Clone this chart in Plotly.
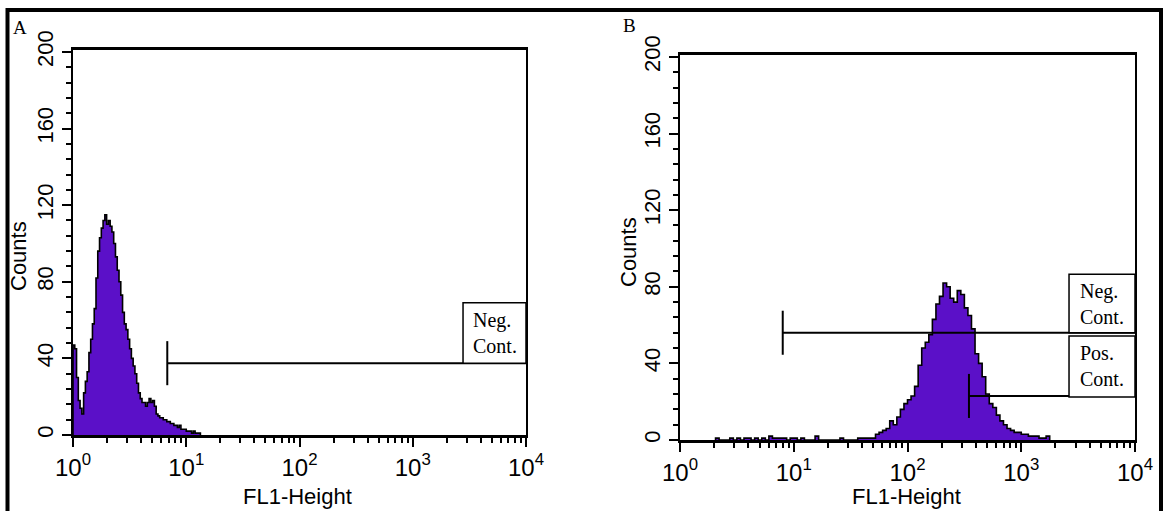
import numpy as np
import plotly.graph_objects as go

W, H = 1165, 511

# ---------------- data ----------------
# Panel A: FL1-Height histogram, 64 channels per decade starting at 10^0
a_channels_per_decade = 64
a_start_channel = 0
a_counts = [47, 45, 30, 18, 14, 11, 22, 28, 33, 43,
            50, 58, 66, 82, 96, 103, 108, 112, 115, 110,
            112, 109, 106, 100, 93, 86, 80, 73, 64, 58,
            55, 50, 45, 40, 36, 32, 27, 22, 19, 17,
            17, 15, 17, 19, 17, 18, 15, 11, 10, 9,
            9, 8, 8, 7, 7, 6, 6, 5, 5, 4,
            5, 3, 3, 3, 2, 2, 2, 1, 2, 1,
            1, 1]

# Panel B: FL1-Height histogram, 32 channels per decade starting at channel 10
b_channels_per_decade = 32
b_start_channel = 10
b_counts = [1, 0, 0, 0, 1, 0, 1, 0, 1, 1,
            0, 1, 0, 1, 0, 2, 1, 1, 1, 1,
            0, 1, 1, 0, 1, 0, 0, 0, 2, 0,
            0, 0, 0, 0, 0, 1, 0, 0, 0, 0,
            1, 1, 1, 1, 1, 3, 4, 5, 6, 10,
            8, 12, 16, 19, 21, 23, 28, 39, 48, 51,
            55, 63, 71, 75, 82, 80, 74, 72, 78, 76,
            69, 65, 58, 45, 40, 33, 24, 19, 17, 13,
            10, 8, 6, 5, 4, 4, 3, 3, 2, 2,
            2, 1, 1, 2]

# Gates (marker start on FL1 axis, level in counts)
gate_a_neg_start, gate_a_neg_level = 6.8, 37.5
gate_b_neg_start, gate_b_neg_level = 8.0, 56
gate_b_pos_start, gate_b_pos_level = 347, 23
fl1_max = 1e4

x_tickvals = [1, 10, 100, 1000, 10000]
x_ticktext = ["10<sup>0</sup>", "10<sup>1</sup>", "10<sup>2</sup>", "10<sup>3</sup>", "10<sup>4</sup>"]
x_minor_vals = [m * 10 ** d for d in range(4) for m in range(2, 10)]

PURPLE = "#5b10c8"
SANS = "Liberation Sans, Arial, sans-serif"
SERIF = "Liberation Serif, Times New Roman, serif"


def step_trace(counts, start, cpd, xa, ya):
    n = len(counts)
    edges = 10 ** (np.arange(start, start + n + 1) / cpd)
    xs = [edges[0]] + list(edges) + [edges[-1]]
    ys = [0] + list(counts) + [counts[-1], 0]
    return go.Scatter(x=xs, y=ys, mode="lines", line_shape="hv",
                      line=dict(color="black", width=1.6),
                      fill="tozeroy", fillcolor=PURPLE,
                      xaxis=xa, yaxis=ya, hoverinfo="skip", showlegend=False)


def gate_trace(start, level, xa, ya, half=11.5):
    return go.Scatter(x=[start, start, None, start, fl1_max],
                      y=[level - half, level + half, None, level, level],
                      mode="lines", line=dict(color="black", width=2),
                      xaxis=xa, yaxis=ya, hoverinfo="skip", showlegend=False)


fig = go.Figure()
fig.add_trace(step_trace(a_counts, a_start_channel, a_channels_per_decade, "x", "y"))
fig.add_trace(step_trace(b_counts, b_start_channel, b_channels_per_decade, "x2", "y2"))
fig.add_trace(gate_trace(gate_a_neg_start, gate_a_neg_level, "x", "y"))
fig.add_trace(gate_trace(gate_b_neg_start, gate_b_neg_level, "x2", "y2"))
fig.add_trace(gate_trace(gate_b_pos_start, gate_b_pos_level, "x2", "y2"))


def px_x(p):
    return p / W


def px_y(p):
    return 1 - p / H


xcommon = dict(type="log", range=[0, 4], showgrid=False, zeroline=False,
               showline=True, linecolor="black", linewidth=2.5, mirror=True,
               tickmode="array", tickvals=x_tickvals, ticktext=x_ticktext,
               ticks="outside", ticklen=9, tickwidth=2, tickcolor="black",
               tickfont=dict(family=SANS, size=24, color="black"),
               minor=dict(tickmode="array", tickvals=x_minor_vals, ticks="outside",
                          ticklen=5, tickwidth=1.5, tickcolor="black"),
               automargin=False, fixedrange=True)
ycommon = dict(range=[0, 201], showgrid=False, zeroline=False,
               showline=True, linecolor="black", linewidth=2, mirror=True,
               tickmode="linear", tick0=0, dtick=40,
               ticks="outside", ticklen=9, tickwidth=2, tickcolor="black",
               tickangle=-90,
               tickfont=dict(family=SANS, size=22, color="black"),
               minor=dict(dtick=8, ticks="outside", ticklen=5, tickwidth=1.5, tickcolor="black"),
               automargin=False, fixedrange=True)

fig.update_layout(
    width=W, height=H,
    margin=dict(l=0, r=0, t=0, b=0),
    paper_bgcolor="white", plot_bgcolor="white",
    xaxis=dict(domain=[px_x(73), px_x(526)], anchor="y", **xcommon),
    yaxis=dict(domain=[px_y(435), px_y(50)], anchor="x", **ycommon),
    xaxis2=dict(domain=[px_x(680), px_x(1135)], anchor="y2", **xcommon),
    yaxis2=dict(domain=[px_y(440), px_y(55)], anchor="x2", **ycommon),
)

annotations = [
    dict(text="Counts", x=px_x(18), y=px_y(256), textangle=-90),
    dict(text="Counts", x=px_x(628), y=px_y(252), textangle=-90),
    dict(text="FL1-Height", x=px_x(298), y=px_y(496)),
    dict(text="FL1-Height", x=px_x(906), y=px_y(496)),
]
anns = []
for a in annotations:
    anns.append(dict(xref="paper", yref="paper", showarrow=False,
                     xanchor="center", yanchor="middle",
                     font=dict(family=SANS, size=22, color="black"), **a))
anns.append(dict(text="A", x=px_x(11), y=px_y(15), xref="paper", yref="paper",
                 showarrow=False, xanchor="left", yanchor="top",
                 font=dict(family=SERIF, size=19, color="black")))
anns.append(dict(text="B", x=px_x(621), y=px_y(13), xref="paper", yref="paper",
                 showarrow=False, xanchor="left", yanchor="top",
                 font=dict(family=SERIF, size=19, color="black")))

# Gate label boxes
boxes = [
    # (xaxis, yaxis, left domain frac, bottom count, top count, text)
    ("x", "y", 0.861, gate_a_neg_level, 69, "Neg.<br>Cont."),
    ("x2", "y2", 0.855, gate_b_neg_level, 86.5, "Neg.<br>Cont."),
    ("x2", "y2", 0.855, 22.5, 54.3, "Pos.<br>Cont."),
]
shapes = []
for xa, ya, left, b, t, txt in boxes:
    shapes.append(dict(type="rect", xref=xa + " domain", yref=ya, x0=left, x1=1, y0=b, y1=t,
                       line=dict(color="black", width=1.5), fillcolor="white", layer="above"))
    anns.append(dict(text=txt, xref=xa + " domain", yref=ya, x=(left + 1) / 2, y=(b + t) / 2,
                     showarrow=False, xanchor="center", yanchor="middle", align="left",
                     font=dict(family=SERIF, size=20, color="black")))

# outer frame
shapes.append(dict(type="rect", xref="paper", yref="paper",
                   x0=px_x(7.5), x1=px_x(1161), y0=-0.1, y1=px_y(10),
                   line=dict(color="black", width=4)))

fig.update_layout(annotations=anns, shapes=shapes)
fig.write_html("out.html", config={"displayModeBar": False},
               post_script="document.body.style.margin='0';document.body.style.overflow='hidden';")
